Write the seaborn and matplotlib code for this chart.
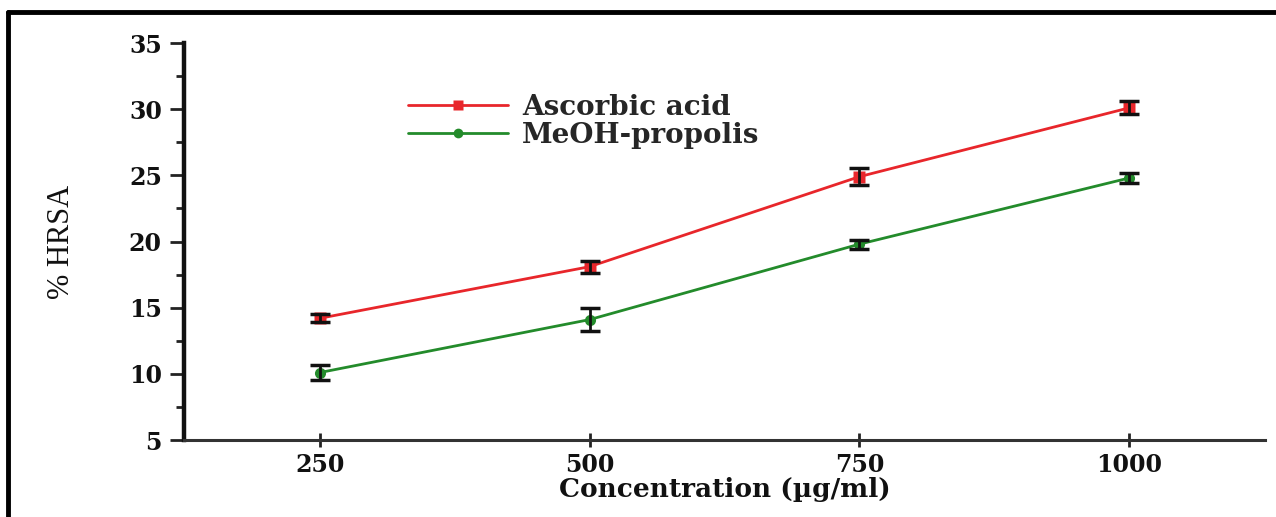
import matplotlib
matplotlib.use("Agg")
import matplotlib.pyplot as plt
from matplotlib.lines import Line2D
from matplotlib.ticker import MultipleLocator
import numpy as np
import pandas as pd
import seaborn as sns

# Hydroxyl radical scavenging activity (%HRSA) by concentration
concentrations = [250, 500, 750, 1000]
ascorbic_acid = [14.2, 18.1, 24.9, 30.1]
ascorbic_err = [0.3, 0.45, 0.65, 0.5]
meoh_propolis = [10.1, 14.1, 19.8, 24.8]
meoh_err = [0.6, 0.85, 0.35, 0.4]
series_names = ["Ascorbic acid", "MeOH-propolis"]
series_colors = ["#e8262b", "#238b2b"]
y_ticks = [5, 10, 15, 20, 25, 30, 35]

df = pd.DataFrame({
    "Concentration": concentrations * 2,
    "HRSA": ascorbic_acid + meoh_propolis,
    "Sample": [series_names[0]] * 4 + [series_names[1]] * 4,
})

sns.set_theme(style="white")
plt.rcParams["font.family"] = ["DejaVu Serif", "DejaVu Sans"]

fig = plt.figure(figsize=(12.76, 5.17), dpi=100)
ax = fig.add_axes([0.1442, 0.1489, 0.8472, 0.7679])

sns.lineplot(data=df, x="Concentration", y="HRSA", hue="Sample",
             palette=series_colors, style="Sample", markers=["s", "o"],
             dashes=False, markersize=8, linewidth=2, legend=False, ax=ax,
             markeredgecolor="none")

for vals, errs, col in [(ascorbic_acid, ascorbic_err, series_colors[0]),
                        (meoh_propolis, meoh_err, series_colors[1])]:
    ax.errorbar(concentrations, vals, yerr=errs, fmt="none", ecolor="#111111",
                elinewidth=2, capsize=7, capthick=2.5, zorder=4)

ax.set_xlim(124, 1126)
ax.set_ylim(5, 35)
ax.set_xticks(concentrations)
ax.set_yticks(y_ticks)
ax.yaxis.set_minor_locator(MultipleLocator(2.5))

for s in ["top", "right"]:
    ax.spines[s].set_visible(False)
ax.spines["left"].set_linewidth(3.2)
ax.spines["left"].set_color("#111111")
ax.spines["bottom"].set_linewidth(2.2)
ax.spines["bottom"].set_color("#333333")

ax.tick_params(axis="y", which="major", direction="out", length=10, width=2,
               color="#222222", labelsize=17, pad=6, left=True)
ax.tick_params(axis="y", which="minor", direction="out", length=6, width=2,
               color="#222222", left=True)
ax.tick_params(axis="x", which="major", direction="inout", length=10, width=2,
               color="#222222", labelsize=17, pad=4, bottom=True)
for lab in ax.get_xticklabels() + ax.get_yticklabels():
    lab.set_fontweight("heavy")
    lab.set_color("#111111")

ax.set_xlabel("Concentration (µg/ml)", fontsize=19, fontweight="heavy",
              color="#111111", labelpad=0)
ax.set_ylabel("% HRSA", fontsize=22, family=["Liberation Serif"],
              color="#111111", labelpad=38)

handles = [
    Line2D([0], [0], color=series_colors[0], lw=2, marker="s", markersize=7,
           markeredgecolor="none"),
    Line2D([0], [0], color=series_colors[1], lw=2, marker="o", markersize=7,
           markeredgecolor="none"),
]
leg = ax.legend(handles, series_names, loc="upper left",
                bbox_to_anchor=(0.184, 0.935), frameon=False, handlelength=3.6,
                handletextpad=0.5, labelspacing=0.05,
                prop={"family": "DejaVu Serif", "weight": "heavy", "size": 20})

# figure frame along the left and top edges
fig.add_artist(Line2D([0.0063, 0.0063], [0.0, 0.977], transform=fig.transFigure,
                      color="black", lw=3.5))
fig.add_artist(Line2D([0.0063, 1.0], [0.977, 0.977], transform=fig.transFigure,
                      color="black", lw=3.5))

fig.savefig("out.png", dpi=100, facecolor="white")
